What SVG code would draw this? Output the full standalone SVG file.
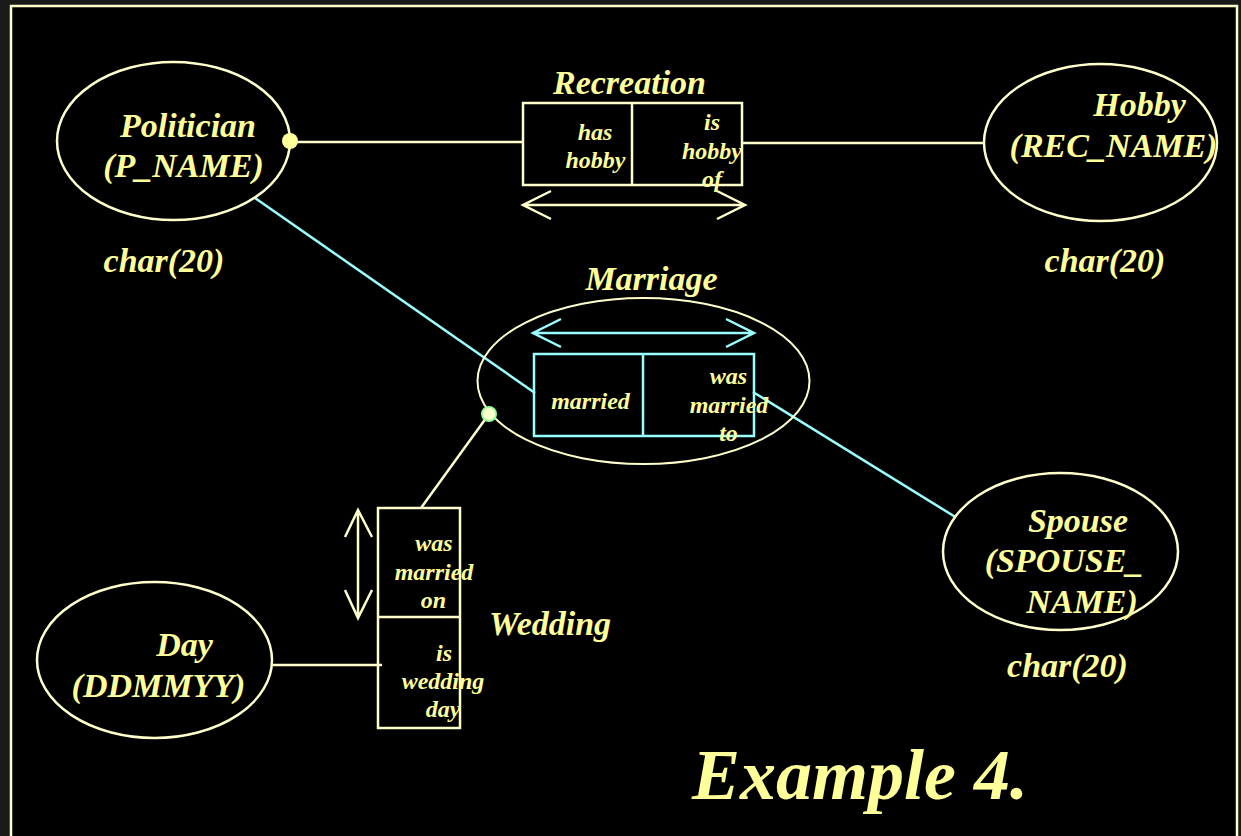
<svg xmlns="http://www.w3.org/2000/svg" width="1241" height="836" viewBox="0 0 1241 836">
  <style>
    .t { font-family: "Liberation Serif", "Times New Roman", serif; font-style: italic; font-weight: bold; fill: #FFFF99; text-anchor: middle; }
    .big { font-size: 34px; }
    .sm { font-size: 24px; }
    .title { font-size: 72px; }
    .ln { stroke: #FFFFCC; stroke-width: 2.5; fill: none; }
    .cy { stroke: #99FFFF; stroke-width: 2.5; fill: none; }
    .ent { stroke: #FFFFCC; stroke-width: 2.5; fill: #000000; }
  </style>

  <!-- slide background and frame -->
  <rect x="0" y="0" width="1241" height="836" fill="#1a1a1a"/>
  <rect x="11" y="6" width="1226" height="850" fill="#000000" stroke="#FFFFCC" stroke-width="2.5"/>

  <!-- connectors -->
  <g id="connectors">
    <line class="ln" x1="290" y1="142" x2="523" y2="142"/>
    <line class="ln" x1="742" y1="143" x2="985" y2="143"/>
    <line class="cy" x1="255" y1="198" x2="535" y2="393"/>
    <line class="cy" x1="753" y1="392" x2="957" y2="518"/>
    <line class="ln" x1="489" y1="414" x2="421" y2="508"/>
    <line class="ln" x1="271" y1="665" x2="382" y2="665"/>
  </g>

  <!-- entity: Politician -->
  <g id="politician">
    <ellipse class="ent" cx="173.5" cy="141" rx="116.5" ry="79"/>
    <text class="t big" x="188" y="137">Politician</text>
    <text class="t big" x="183.5" y="177">(P_NAME)</text>
    <text class="t big" x="164" y="272">char(20)</text>
    <circle cx="290" cy="141" r="8" fill="#FFFF99"/>
  </g>

  <!-- entity: Hobby -->
  <g id="hobby">
    <ellipse class="ent" cx="1100.5" cy="142.5" rx="116.5" ry="78.5"/>
    <text class="t big" x="1139.5" y="116">Hobby</text>
    <text class="t big" x="1113.5" y="157">(REC_NAME)</text>
    <text class="t big" x="1105" y="272">char(20)</text>
  </g>

  <!-- relationship: Recreation -->
  <g id="recreation">
    <text class="t big" x="629.5" y="94">Recreation</text>
    <rect class="ln" x="523" y="103" width="219" height="82"/>
    <line class="ln" x1="632" y1="103" x2="632" y2="185"/>
    <text class="t sm" x="595" y="140">has</text>
    <text class="t sm" x="595.5" y="168">hobby</text>
    <text class="t sm" x="712" y="130">is</text>
    <text class="t sm" x="712" y="159">hobby</text>
    <text class="t sm" x="712" y="187">of</text>
    <path class="ln" d="M523 205 H745 M551 191 L523 205 L551 219 M717 191 L745 205 L717 219" stroke-width="2"/>
  </g>

  <!-- relationship: Marriage -->
  <g id="marriage">
    <text class="t big" x="651.5" y="290">Marriage</text>
    <ellipse cx="643.5" cy="381" rx="166" ry="83" fill="none" stroke="#FFFFCC" stroke-width="2"/>
    <path class="cy" d="M533 333 H754 M561 319 L533 333 L561 347 M726 319 L754 333 L726 347" stroke-width="2"/>
    <rect class="cy" x="534" y="354" width="220" height="82"/>
    <line class="cy" x1="643" y1="354" x2="643" y2="436"/>
    <text class="t sm" x="590.5" y="409">married</text>
    <text class="t sm" x="728.5" y="384">was</text>
    <text class="t sm" x="729" y="413">married</text>
    <text class="t sm" x="728.5" y="441">to</text>
    <circle cx="489" cy="414" r="7" fill="#FFFFCC" stroke="#99FF99" stroke-width="2"/>
  </g>

  <!-- relationship: Wedding -->
  <g id="wedding">
    <rect class="ln" x="378" y="508" width="82" height="220"/>
    <line class="ln" x1="378" y1="617" x2="460" y2="617"/>
    <path class="ln" d="M358 510 V618 M345 537 L358 510 L372 537 M345 590 L358 618 L372 590" stroke-width="2"/>
    <text class="t sm" x="434" y="551">was</text>
    <text class="t sm" x="434" y="580">married</text>
    <text class="t sm" x="433.5" y="608">on</text>
    <text class="t sm" x="444" y="661">is</text>
    <text class="t sm" x="443" y="689">wedding</text>
    <text class="t sm" x="443" y="717">day</text>
    <text class="t big" x="550" y="635">Wedding</text>
  </g>

  <!-- entity: Day -->
  <g id="day">
    <ellipse class="ent" cx="154.5" cy="660" rx="117.5" ry="78"/>
    <text class="t big" x="184.5" y="656">Day</text>
    <text class="t big" x="158.5" y="697">(DDMMYY)</text>
  </g>

  <!-- entity: Spouse -->
  <g id="spouse">
    <ellipse class="ent" cx="1060.5" cy="551.5" rx="117.5" ry="78.5"/>
    <text class="t big" x="1078" y="532">Spouse</text>
    <text class="t big" x="1064" y="572">(SPOUSE_</text>
    <text class="t big" x="1082" y="613">NAME)</text>
    <text class="t big" x="1067.5" y="677">char(20)</text>
  </g>

  <!-- slide caption -->
  <g id="caption">
    <text class="t title" x="860" y="799">Example 4.</text>
  </g>
</svg>
